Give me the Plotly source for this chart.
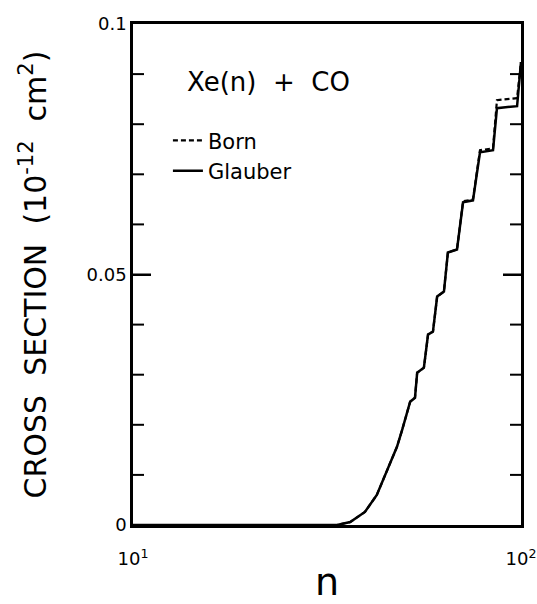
import math
import plotly.graph_objects as go

# Principal quantum number n (log axis) and cross sections (1e-12 cm^2)
n_vals = [10, 20, 30, 33.6, 36.3, 39.6, 42.5, 44.1, 46.0, 47.9, 49.4, 50.8, 51.8,
          53.3, 54.0, 56.2, 57.6, 59.3, 60.8, 63.3, 64.8, 68.4, 70.9, 75.2,
          78.4, 84.7, 86.7, 97.7, 99.4, 100]
glauber = [0, 0, 0, 0, 0.0006, 0.0026, 0.006, 0.009, 0.0124, 0.0156, 0.019, 0.0224, 0.0246,
           0.0254, 0.0304, 0.0314, 0.038, 0.0386, 0.0456, 0.0466, 0.0544, 0.055, 0.0644, 0.0648,
           0.0744, 0.0748, 0.0832, 0.0836, 0.090, 0.0924]
born = [0, 0, 0, 0, 0.0006, 0.0026, 0.006, 0.009, 0.0124, 0.0156, 0.019, 0.0224, 0.0246,
        0.0254, 0.0304, 0.0314, 0.038, 0.0386, 0.0456, 0.0466, 0.0544, 0.055, 0.0646, 0.065,
        0.0748, 0.0752, 0.0848, 0.0852, 0.091, 0.0924]

x_tickvals = [10, 100]
x_ticktext = ["10<sup>1</sup>", "10<sup>2</sup>"]
x_minor = [20, 30, 40, 50, 60, 70, 80, 90]
y_major = [0, 0.05, 0.1]
y_major_text = ["0", "0.05", "0.1"]
y_minor = [0.01, 0.02, 0.03, 0.04, 0.06, 0.07, 0.08, 0.09]

FONT = "DejaVu Sans"

fig = go.Figure()
fig.add_trace(go.Scatter(x=n_vals, y=born, mode="lines", name="Born",
                         line=dict(color="black", width=2.2, dash="5px,3px")))
fig.add_trace(go.Scatter(x=n_vals, y=glauber, mode="lines", name="Glauber",
                         line=dict(color="black", width=2.5)))

fig.update_layout(
    width=537, height=604,
    margin=dict(l=133, r=16, t=24, b=79, autoexpand=False),
    paper_bgcolor="white", plot_bgcolor="white",
    font=dict(family=FONT, color="black", size=18),
    showlegend=True,
    legend=dict(x=0.09, y=0.808, xanchor="left", yanchor="top",
                font=dict(size=21, family=FONT), bgcolor="rgba(0,0,0,0)",
                tracegroupgap=6, itemwidth=30),
    xaxis=dict(type="log", range=[1, 2], tickvals=x_tickvals, ticktext=x_ticktext,
               ticks="inside", ticklen=12, tickwidth=2, tickcolor="black",
               showline=True, linewidth=2.5, linecolor="black", mirror="allticks",
               gridcolor="white", zerolinecolor="white", tickfont=dict(size=18),
               ticklabelstandoff=16, automargin=False,
               title=dict(text="n", font=dict(size=38), standoff=8)),
    yaxis=dict(range=[0, 0.1], tickvals=y_major, ticktext=y_major_text,
               ticks="inside", ticklen=18, tickwidth=2, tickcolor="black",
               showline=True, linewidth=2.5, linecolor="black", mirror="allticks",
               gridcolor="white", zerolinecolor="white", tickfont=dict(size=18),
               automargin=False,
               title=dict(text="CROSS  SECTION  (10<sup>-12</sup>  cm<sup>2</sup>)",
                          font=dict(size=30), standoff=32)),
)

# Tick marks (inside, on all four sides), placed from the tick lists
tick_line = dict(color="black", width=2)
for v in x_minor:
    lv = math.log10(v)
    for anchor, length in ((0, 12), (1, -12)):
        fig.add_shape(type="line", xref="x", yref="paper", ysizemode="pixel",
                      yanchor=anchor, x0=lv, x1=lv, y0=0, y1=length,
                      line=tick_line, layer="above")
for vals, length in ((y_minor, 11), ([0.05], 18)):
    for v in vals:
        for anchor, sign in ((0, 1), (1, -1)):
            fig.add_shape(type="line", xref="paper", yref="y", xsizemode="pixel",
                          xanchor=anchor, x0=0, x1=sign * length, y0=v, y1=v,
                          line=tick_line, layer="above")

fig.add_annotation(text="Xe(n)  +  CO", x=0.135, y=0.885, xref="paper", yref="paper",
                   xanchor="left", yanchor="middle", showarrow=False,
                   font=dict(size=26, family=FONT))

fig.write_html("out.html")
